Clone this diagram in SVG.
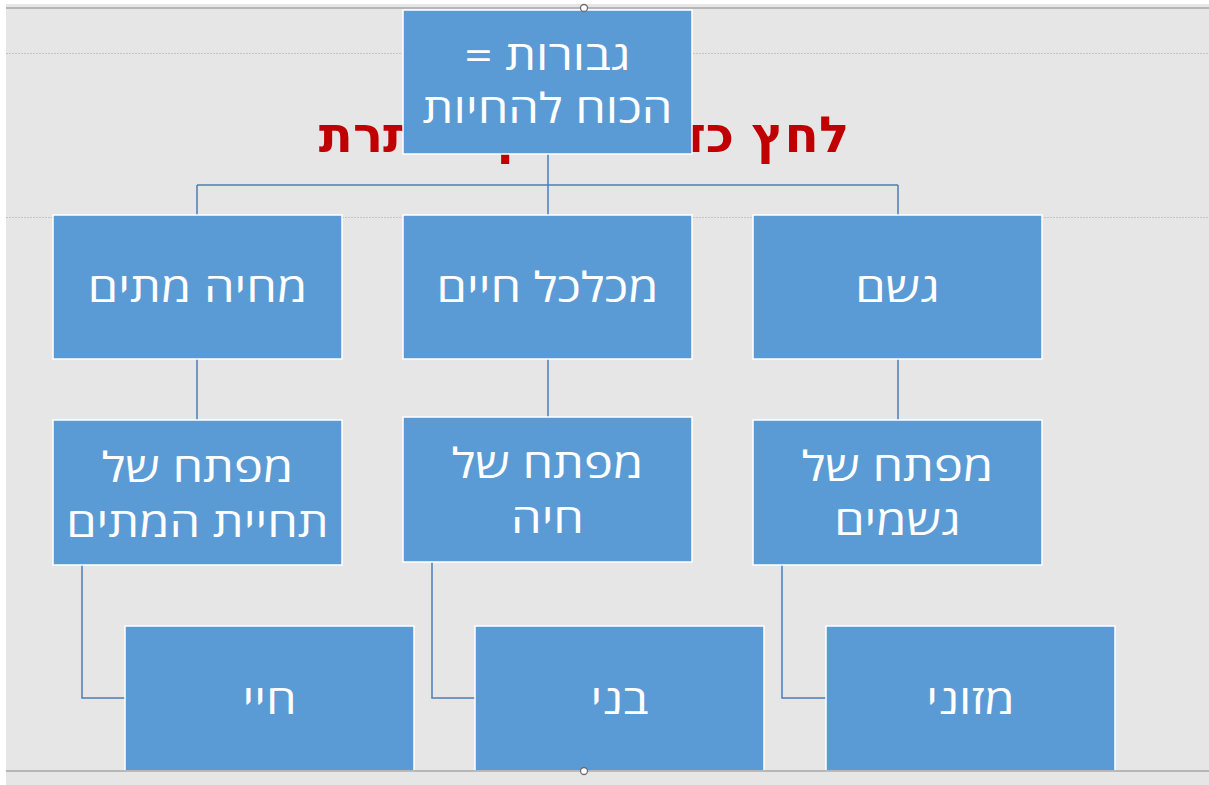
<svg xmlns="http://www.w3.org/2000/svg" width="1209" height="785" viewBox="0 0 1209 785">
<defs>
<style>
.box{fill:#5b9bd5;stroke:#ffffff;stroke-width:1.5}
.lbl{fill:#ffffff;font-family:"Open Sans","DejaVu Sans",sans-serif;font-size:41px;text-anchor:middle;direction:rtl;unicode-bidi:embed}
.con{fill:none;stroke:#4a7ebb;stroke-width:1.5}
.title{fill:#c00000;font-family:"DejaVu Sans","Liberation Sans",sans-serif;font-weight:bold;font-size:50px;text-anchor:middle;direction:rtl;unicode-bidi:embed}
.guide{stroke:#a6a6a6;stroke-width:1.5}
.dot{stroke:#c4c4c4;stroke-width:1;stroke-dasharray:2 1}
.handle{fill:#ffffff;stroke:#6e6e6e;stroke-width:1.3}
</style>
</defs>
<rect x="0" y="0" width="1209" height="785" fill="#ffffff"/>
<rect x="6" y="4" width="1203" height="781" fill="#e6e6e6"/>
<line class="dot" x1="6" y1="53.5" x2="1209" y2="53.5"/>
<line class="dot" x1="6" y1="217.5" x2="1209" y2="217.5"/>
<line class="guide" x1="6" y1="8" x2="1209" y2="8"/>
<text class="title" x="584" y="152">לחץ כדי להוסיף כותרת</text>
<g id="connectors">
<path class="con" d="M548,154 V185 M197,185 H898 M197,185 V215 M548,185 V215 M898,185 V215"/>
<path class="con" d="M197,359 V420 M548,359 V417 M898,359 V420"/>
<path class="con" d="M82,565 V698 H125 M432,562 V698 H475 M782,565 V698 H826"/>
</g>
<g id="n-top"><rect class="box" x="403" y="10" width="289" height="144"/><text class="lbl" transform="translate(547.5,70) scale(1.19,1)">גבורות =</text><text class="lbl" transform="translate(547.5,123) scale(1.19,1)">הכוח להחיות</text></g>
<g id="n-l2a"><rect class="box" x="53" y="215" width="289" height="144"/><text class="lbl" transform="translate(197.5,302) scale(1.19,1)">מחיה מתים</text></g>
<g id="n-l2b"><rect class="box" x="403" y="215" width="289" height="144"/><text class="lbl" transform="translate(547.5,302) scale(1.19,1)">מכלכל חיים</text></g>
<g id="n-l2c"><rect class="box" x="753" y="215" width="289" height="144"/><text class="lbl" transform="translate(897.5,302) scale(1.19,1)">גשם</text></g>
<g id="n-l3a"><rect class="box" x="53" y="420" width="289" height="145"/><text class="lbl" transform="translate(197.5,482) scale(1.19,1)">מפתח של</text><text class="lbl" transform="translate(197.5,537) scale(1.19,1)">תחיית המתים</text></g>
<g id="n-l3b"><rect class="box" x="403" y="417" width="289" height="145"/><text class="lbl" transform="translate(547.5,478) scale(1.19,1)">מפתח של</text><text class="lbl" transform="translate(547.5,533) scale(1.19,1)">חיה</text></g>
<g id="n-l3c"><rect class="box" x="753" y="420" width="289" height="145"/><text class="lbl" transform="translate(897.5,481) scale(1.19,1)">מפתח של</text><text class="lbl" transform="translate(897.5,535) scale(1.19,1)">גשמים</text></g>
<g id="n-l4a"><rect class="box" x="125" y="626" width="289" height="145"/><text class="lbl" transform="translate(269.5,714) scale(1.19,1)">חיי</text></g>
<g id="n-l4b"><rect class="box" x="475" y="626" width="289" height="145"/><text class="lbl" transform="translate(619.5,714) scale(1.19,1)">בני</text></g>
<g id="n-l4c"><rect class="box" x="826" y="626" width="289" height="145"/><text class="lbl" transform="translate(970.5,714) scale(1.19,1)">מזוני</text></g>
<line class="guide" x1="6" y1="771" x2="1209" y2="771"/>
<circle class="handle" cx="584" cy="8" r="3.5"/>
<circle class="handle" cx="584" cy="771" r="3.5"/>
</svg>
